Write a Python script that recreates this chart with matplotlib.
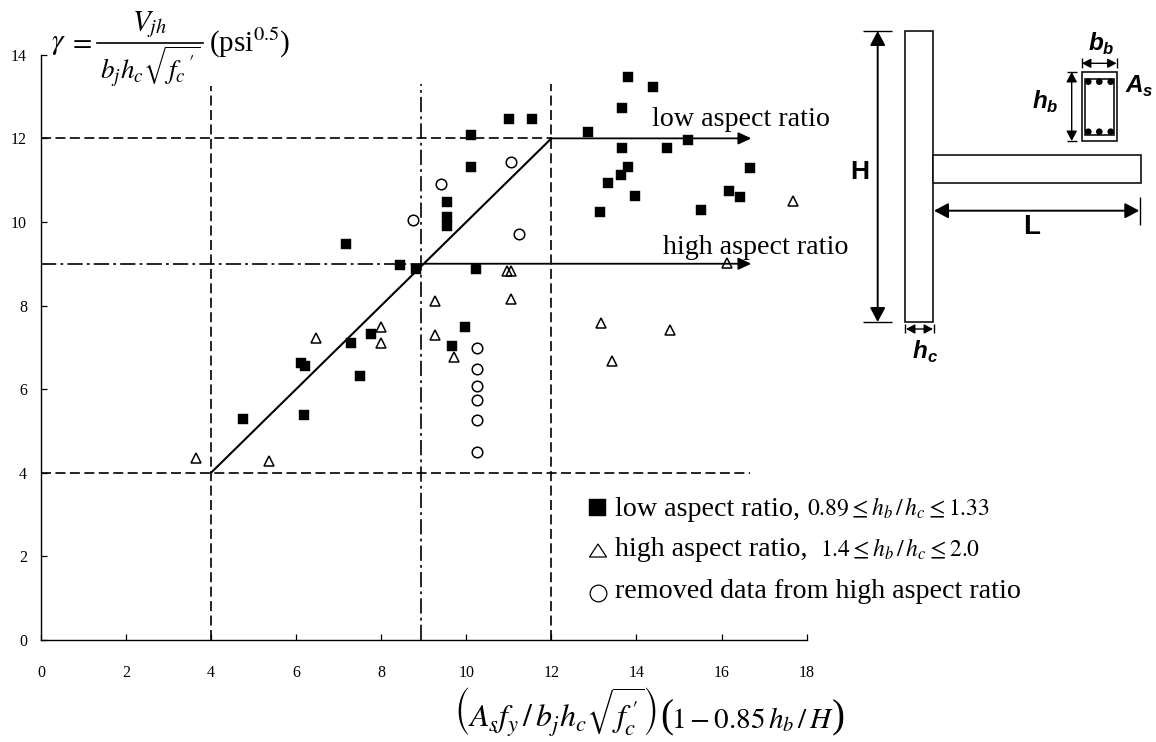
import matplotlib
matplotlib.use("Agg")
import matplotlib.pyplot as plt
from matplotlib.patches import Rectangle, Circle, Polygon

plt.rcParams['font.family'] = ['Liberation Serif', 'DejaVu Sans']
plt.rcParams['mathtext.fontset'] = 'stix'
plt.rcParams['lines.scale_dashes'] = False

# ---- data ----
low_x = [11.0, 11.55, 10.12, 10.12, 9.54, 9.54, 9.54, 7.16, 8.43, 8.82, 10.22, 9.96, 9.67, 7.75, 7.29, 7.51,
         6.12, 6.21, 4.76, 6.19, 13.80, 14.39, 13.67, 12.86, 15.2, 13.67, 14.71, 13.80, 13.63, 16.67, 13.34,
         13.96, 16.17, 16.44, 13.15, 15.52]
low_y = [12.46, 12.46, 12.07, 11.32, 10.47, 10.13, 9.90, 9.47, 8.96, 8.87, 8.87, 7.48, 7.02, 7.33, 7.10, 6.32,
         6.63, 6.55, 5.28, 5.39, 13.46, 13.22, 12.72, 12.15, 11.95, 11.76, 11.76, 11.32, 11.13, 11.28, 10.94,
         10.63, 10.74, 10.59, 10.24, 10.28]
high_x = [17.69, 16.13, 13.16, 14.79, 13.43, 10.95, 11.05, 11.05, 9.26, 9.26, 9.72, 7.99, 7.99, 6.46, 3.64, 5.35]
high_y = [10.49, 9.01, 7.58, 7.41, 6.68, 8.82, 8.82, 8.16, 8.12, 7.30, 6.76, 7.49, 7.10, 7.22, 4.35, 4.27]
removed_x = [11.06, 11.23, 9.41, 8.75, 10.26, 10.26, 10.26, 10.26, 10.26, 10.26]
removed_y = [11.44, 9.70, 10.90, 10.05, 6.98, 6.47, 6.08, 5.74, 5.27, 4.50]
model_x = [4, 9, 12]
model_y = [4, 9, 12]
x_ticks = [0, 2, 4, 6, 8, 10, 12, 14, 16, 18]
y_ticks = [0, 2, 4, 6, 8, 10, 12, 14]
plateau_end = 16.67

W, H = 1156, 742
fig = plt.figure(figsize=(W / 100, H / 100), dpi=100, facecolor='white')
ax = fig.add_axes([41 / W, (H - 639.8) / H, 765.6 / W, 585 / H])
ax.set_xlim(0, 18)
ax.set_ylim(0, 14)
for s in ('top', 'right'):
    ax.spines[s].set_visible(False)
for s in ('left', 'bottom'):
    ax.spines[s].set_linewidth(1.0)
ax.set_xticks(x_ticks)
ax.set_yticks(y_ticks)
ax.tick_params(axis='x', direction='in', length=4.5, width=0.9, pad=18, labelsize=11.5)
ax.tick_params(axis='y', direction='in', length=4, width=0.9, pad=10, labelsize=11.5)

dash = (0, (7.2, 3.2))
dashdot = (0, (11, 3, 2, 3))
ax.plot([0, 12], [12, 12], color='k', lw=1.2, ls=dash)
ax.plot([0, plateau_end], [4, 4], color='k', lw=1.2, ls=dash)
ax.plot([0, 9], [9, 9], color='k', lw=1.2, ls=dashdot)
ax.plot([4, 4], [0, 13.25], color='k', lw=1.2, ls=dash)
ax.plot([8.93, 8.93], [0, 13.3], color='k', lw=1.2, ls=dashdot)
ax.plot([12, 12], [0, 13.3], color='k', lw=1.2, ls=dash)
ax.plot(model_x, model_y, color='k', lw=1.5)
for lvl in (12, 9):
    ax.annotate('', xy=(plateau_end + 0.03, lvl), xytext=(12 if lvl == 12 else 9, lvl),
                arrowprops=dict(arrowstyle='-|>,head_length=0.6,head_width=0.28', color='k', lw=1.3,
                                shrinkA=0, shrinkB=0, mutation_scale=13))

ax.plot(low_x, low_y, ls='none', marker='s', ms=6.5, mfc='k', mec='k', mew=0.3, zorder=4)
ax.plot(high_x, high_y, ls='none', marker='^', ms=6.8, mfc='none', mec='k', mew=1.1, zorder=4)
ax.plot(removed_x, removed_y, ls='none', marker='o', ms=7.6, mfc='none', mec='k', mew=1.1, zorder=4)

# overlay in pixel coordinates for annotation text and the schematic
ov = fig.add_axes([0, 0, 1, 1], facecolor='none')
ov.set_xlim(0, W)
ov.set_ylim(H, 0)
ov.axis('off')

ov.text(652, 120, 'low aspect ratio', fontsize=20.2, va='center', ha='left')
ov.text(663, 247, 'high aspect ratio', fontsize=20.2, va='center', ha='left')

# y-axis formula
ov.text(51, 44, r'$\gamma$', fontsize=21, va='center', ha='left')
ov.text(68, 43, r'$=$', fontsize=20, va='center', ha='left')
ov.plot([97, 203], [43, 43], color='k', lw=1.2)
ov.text(150, 25, r'$V_{jh}$', fontsize=21, va='center', ha='center')
ov.text(150, 66, r'$b_j h_c\sqrt{f_c\,^{\prime}}$', fontsize=19.5, va='center', ha='center')
ov.text(209, 43, r'(psi$^{0.5}$)', fontsize=21, va='center', ha='left')

# x-axis formula
ov.text(454, 728, r'$\left(A_s f_y\,/\,b_j h_c\sqrt{f_c^{\,\prime}}\right)$', fontsize=23, va='baseline', ha='left')
ov.text(660, 727, '(', fontsize=28, va='baseline', ha='left', fontweight='light')
ov.text(671, 728, r'$1-0.85\,h_b\,/\,H$', fontsize=21, va='baseline', ha='left')
ov.text(832, 727, ')', fontsize=28, va='baseline', ha='left', fontweight='light')

# legend
ov.add_patch(Rectangle((589, 499), 17, 17, fc='k', ec='k', lw=0.3))
ov.add_patch(Polygon([(589.5, 557), (606.5, 557), (598, 544)], closed=True, fc='none', ec='k', lw=0.9))
ov.plot([597.5], [593], marker='o', ms=12, mfc='none', mec='k', mew=0.9, ls='none')
ov.text(615, 509, 'low aspect ratio,', fontsize=20.2, va='center', ha='left')
ov.text(807, 508, r'$0.89\leq h_b\,/\,h_c\leq 1.33$', fontsize=17, va='center', ha='left')
ov.text(615, 550, 'high aspect ratio,', fontsize=20.2, va='center', ha='left')
ov.text(820, 549, r'$1.4\leq h_b\,/\,h_c\leq 2.0$', fontsize=17, va='center', ha='left')
ov.text(615, 592, 'removed data from high aspect ratio', fontsize=20.2, va='center', ha='left')

# schematic
def box(x0, y0, x1, y1, lw=1.2):
    ov.add_patch(Rectangle((x0, y0), x1 - x0, y1 - y0, fc='white', ec='#111111', lw=lw))

def seg(x0, y0, x1, y1, lw=1.0):
    ov.plot([x0, x1], [y0, y1], color='k', lw=lw, solid_capstyle='butt')

def dim(x0, y0, x1, y1, scale=11.5, lw=1.4):
    ov.annotate('', xy=(x1, y1), xytext=(x0, y0),
                arrowprops=dict(arrowstyle='<|-|>,head_length=0.75,head_width=0.4', color='k', lw=lw,
                                shrinkA=0, shrinkB=0, mutation_scale=scale))

box(905.3, 30.7, 933.3, 322)
box(933.3, 155.3, 1141, 183)
dim(877.7, 31, 877.7, 322)
seg(863, 30.7, 892, 30.7)
seg(863, 322, 892, 322)
dim(934, 210.7, 1139.3, 210.7)
seg(1139.5, 197, 1139.5, 225)
dim(906, 329, 933, 329, scale=7, lw=1)
seg(905, 324, 905, 333)
seg(934, 324, 934, 333)

box(1081.7, 71.7, 1116.7, 141.3)
box(1085.3, 79, 1114, 134.7)
for cx in (1088.3, 1099.3, 1110.7):
    for cy in (81.7, 131.7):
        ov.add_patch(Circle((cx, cy), 3.3, fc='k', ec='none'))
dim(1082, 63.3, 1116.5, 63.3, scale=7, lw=1)
seg(1081.7, 58, 1081.7, 68)
seg(1116.7, 58, 1116.7, 68)
dim(1071.7, 72, 1071.7, 141, scale=8, lw=1)
seg(1067, 71.7, 1076.7, 71.7)
seg(1067, 141.3, 1076.7, 141.3)

sans = dict(family='Liberation Sans', fontweight='bold', color='k', va='center', ha='center')
ov.text(860, 172, 'H', fontsize=19, **sans)
ov.text(1032, 227, 'L', fontsize=20, **sans)
sans_it = dict(sans, fontstyle='italic')
def sub(x, y, main, small, dx=11):
    ov.text(x, y, main, fontsize=17.5, **sans_it)
    ov.text(x + dx, y + 6, small, fontsize=12, **sans_it)
sub(920, 351, 'h', 'c', 12)
sub(1096, 43, 'b', 'b', 12)
sub(1040, 101, 'h', 'b', 12)
sub(1134, 86, 'A', 's', 13)

fig.savefig('out.png', dpi=100, facecolor='white')
